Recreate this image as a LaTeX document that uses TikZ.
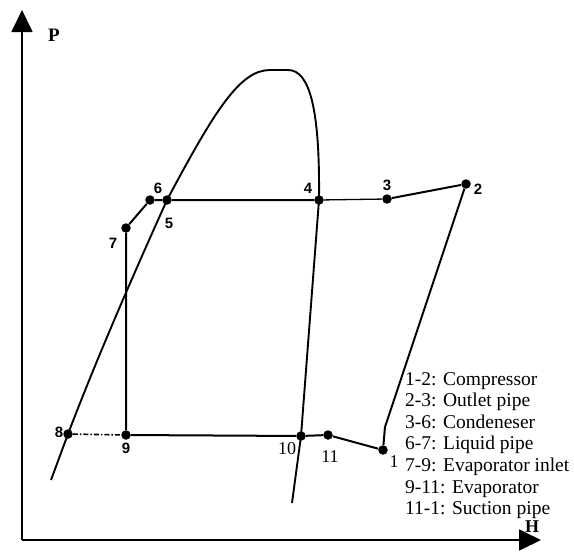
\documentclass[tikz,border=0pt]{standalone}
\usepackage{fontspec}
\setmainfont{Liberation Serif}
\setsansfont{Liberation Sans}
\usetikzlibrary{arrows.meta}
\tikzset{>={Triangle[length=22pt,width=21pt]},every node/.style={inner sep=0pt},
  pt/.style={circle,fill,inner sep=0pt,minimum size=9.5pt},
  cyc/.style={line width=2pt},axis/.style={line width=1.8pt,->},
  num/.style={font=\sffamily\bfseries\fontsize{15}{15}\selectfont},
  numr/.style={font=\fontsize{18}{18}\selectfont},
  leg/.style={anchor=base west,font=\fontsize{19.5}{19.5}\selectfont}}
\begin{document}
\begin{tikzpicture}[x=1pt,y=-1pt]
\useasboundingbox (0,0) rectangle (574,552);
\coordinate (O) at (22,540);\coordinate (Ptop) at (22,10);\coordinate (Hend) at (541,540);
\draw[axis] (O)--(Ptop);\draw[axis] (O)--(Hend);
\node[font=\bfseries\fontsize{19}{19}\selectfont] (P) at (54,35) {P};
\node[font=\bfseries\fontsize{18}{18}\selectfont] (H) at (532,527) {H};
% saturation dome
\draw[line width=1.9pt] (51,480)--(68,434) .. controls (100,350) and (140,260) .. (167,200) .. controls (215,110) and (240,70) .. (270,70) -- (288,70) .. controls (310,70) and (320,110) .. (319,200) -- (301,436) -- (292,503);
% state points
\foreach \n/\p in {1/{383,450},2/{466,184},3/{387,199},4/{319,200},5/{167,200},6/{150,200},7/{126,228},8/{68,434},9/{126,435},10/{301,436},11/{328,435}}{\node[pt] (p\n) at (\p) {};}
\coordinate (k1) at (385,427);
\draw[cyc] (p1)--(k1)--(p2)--(p3);\draw[line width=1.3pt] (p3)--(p4);
\draw[cyc] (p4)--(p5)--(p6)--(p7)--(p9)--(p10)--(p11)--(p1);
\draw[line width=1.6pt,dash pattern=on 5pt off 2pt on 1.5pt off 2pt] (p8)--(p9);
\foreach \n/\p in {2/{478,189},3/{387,185},4/{308,188},5/{169,223},6/{158,188},7/{113,243},8/{59,432},9/{126,448}}{\node[num] (l\n) at (\p) {\n};}
\foreach \n/\p in {1/{394,462},10/{287,449},11/{330,457}}{\node[numr] (l\n) at (\p) {\n};}
% legend
\foreach \t [count=\i] in {1-2: Compressor,2-3: Outlet pipe,3-6: Condeneser,6-7: Liquid pipe,7-9: Evaporator inlet,9-11: Evaporator,11-1: Suction pipe}
  {\node[leg] (leg\i) at (405,{385+21.6*(\i-1)}) {\t};}
\end{tikzpicture}
\end{document}
